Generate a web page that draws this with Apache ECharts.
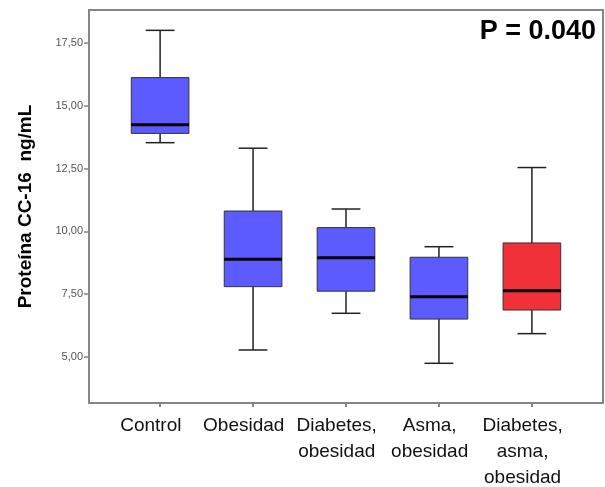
<!DOCTYPE html>
<html>
<head>
<meta charset="utf-8">
<script src="https://cdn.jsdelivr.net/npm/echarts@6/dist/echarts.min.js"></script>
<style>html,body{margin:0;padding:0;background:#fff;}#c{width:605px;height:487px;}</style>
</head>
<body>
<div id="c"></div>
<script>
const categories = ["Control", "Obesidad", "Diabetes,\nobesidad", "Asma,\nobesidad", "Diabetes,\nasma,\nobesidad"];
const whiskerLow = [13.53, 5.28, 6.74, 4.75, 5.93];
const q1 = [13.90, 7.80, 7.62, 6.51, 6.87];
const median = [14.24, 8.89, 8.95, 7.40, 7.64];
const q3 = [16.12, 10.81, 10.15, 8.97, 9.54];
const whiskerHigh = [18.00, 13.31, 10.89, 9.39, 12.54];
const yTicks = [5, 7.5, 10, 12.5, 15, 17.5];
const pText = "P = 0.040";

const boxColors = ["#5b5bff", "#5b5bff", "#5b5bff", "#5b5bff", "#f03139"];
const catIdx = categories.map((_, i) => i);
const labelPos = catIdx.map(i => i - 0.1);
const data = categories.map((_, i) => [i, whiskerLow[i], q1[i], median[i], q3[i], whiskerHigh[i]]);

const chart = echarts.init(document.getElementById('c'));
chart.setOption({
  animation: false,
  backgroundColor: '#fff',
  title: {
    text: pText, right: 4, top: 13,
    textStyle: { fontFamily: 'Liberation Sans, Arial', fontWeight: 'bold', fontSize: 27, color: '#000' }
  },
  grid: { left: 89, right: 2, top: 10, bottom: 84, outerBoundsMode: 'none', containLabel: false,
    show: true, borderColor: '#858585', borderWidth: 2, backgroundColor: '#fff' },
  xAxis: {
    type: 'value', min: -0.765, max: 4.765,
    axisLine: { show: false, onZero: false }, splitLine: { show: false },
    axisTick: { show: true, customValues: catIdx, length: 4, lineStyle: { color: '#858585', width: 2 } },
    axisLabel: {
      customValues: labelPos, margin: 10,
      showMinLabel: true, showMaxLabel: true, hideOverlap: false,
      formatter: v => categories[Math.round(v)],
      fontFamily: 'Liberation Sans, Arial', fontSize: 19, lineHeight: 26, color: '#111', align: 'center'
    }
  },
  yAxis: {
    type: 'value', min: 3.17, max: 18.81,
    name: 'Proteína CC-16  ng/mL', nameLocation: 'middle', nameGap: 54,
    nameTextStyle: { fontFamily: 'Liberation Sans, Arial', fontWeight: 'bold', fontSize: 19, color: '#000' },
    axisLine: { show: false, onZero: false }, splitLine: { show: false },
    axisTick: { show: true, customValues: yTicks, length: 5, lineStyle: { color: '#858585', width: 1.5 } },
    axisLabel: {
      customValues: yTicks, margin: 6,
      formatter: v => v.toFixed(2).replace('.', ','),
      fontFamily: 'Liberation Sans, Arial', fontSize: 11, color: '#555'
    }
  },
  series: [{
    type: 'custom',
    data: data,
    encode: { x: 0, y: [1, 2, 3, 4, 5] },
    renderItem: function (params, api) {
      const i = api.value(0);
      const cx = api.coord([i, 0])[0];
      const unit = api.size([1, 0])[0];
      const hw = unit * 0.31;
      const cw = unit * 0.155;
      const yLo = api.coord([i, api.value(1)])[1];
      const yQ1 = api.coord([i, api.value(2)])[1];
      const yMd = api.coord([i, api.value(3)])[1];
      const yQ3 = api.coord([i, api.value(4)])[1];
      const yHi = api.coord([i, api.value(5)])[1];
      const ls = { stroke: '#222', lineWidth: 1.5 };
      return {
        type: 'group',
        children: [
          { type: 'line', shape: { x1: cx, y1: yHi, x2: cx, y2: yQ3 }, style: ls },
          { type: 'line', shape: { x1: cx, y1: yQ1, x2: cx, y2: yLo }, style: ls },
          { type: 'line', shape: { x1: cx - cw, y1: yHi, x2: cx + cw, y2: yHi }, style: ls },
          { type: 'line', shape: { x1: cx - cw, y1: yLo, x2: cx + cw, y2: yLo }, style: ls },
          { type: 'rect', shape: { x: cx - hw, y: yQ3, width: hw * 2, height: yQ1 - yQ3 },
            style: { fill: boxColors[i], stroke: '#333', lineWidth: 1 } },
          { type: 'line', shape: { x1: cx - hw, y1: yMd, x2: cx + hw, y2: yMd }, style: { stroke: '#000', lineWidth: 3 } }
        ]
      };
    }
  }]
});
</script>
</body>
</html>
